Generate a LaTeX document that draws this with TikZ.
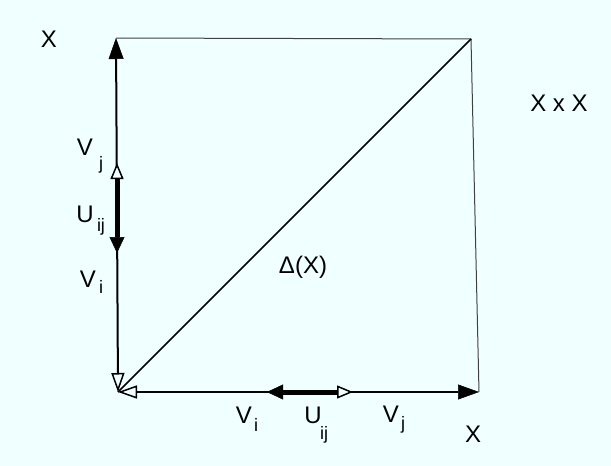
\documentclass[tikz,border=0pt]{standalone}
\usepackage{fontspec}
\setmainfont{Liberation Sans}
\usetikzlibrary{arrows.meta}
\definecolor{bg}{HTML}{F0FFFF}
\tikzset{
  bigtip/.tip={Triangle[length=21pt,width=15pt,line width=0.5pt]},
  bigopen/.tip={Triangle[length=19pt,width=13pt,fill=bg,line width=1.5pt]},
  smalltip/.tip={Triangle[length=16pt,width=15pt,line width=0.5pt]},
  smallopen/.tip={Triangle[length=16pt,width=13pt,fill=bg,line width=1.5pt]},
}
\begin{document}
\begin{tikzpicture}[x=1pt,y=-1pt,
  lbl/.style={font=\fontsize{24}{24}\selectfont, inner sep=0pt, anchor=base},
  sub/.style={font=\fontsize{18}{18}\selectfont, inner sep=0pt, anchor=base},
  axis/.style={line width=2pt},
  useg/.style={line width=5pt},
  edge/.style={draw=black!75, line width=1pt},
  diag/.style={line width=1.5pt}]
\fill[bg] (0,0) rectangle (611,466);
\useasboundingbox (0,0) rectangle (611,466);
\coordinate (O) at (118,392);
\coordinate (T) at (116,38);
\coordinate (TR) at (471,39);
\coordinate (R) at (479,392);
\coordinate (U1) at (117,163);
\coordinate (U2) at (117,253);
\coordinate (H1) at (267,392);
\coordinate (H2) at (353,392);
\draw[edge] (T) -- (TR) -- (R);
\draw[diag] (O) -- (TR);
\draw[axis, bigopen-bigtip] (O) -- (T);
\draw[axis, bigopen-bigtip] (O) -- (R);
\draw[useg, smallopen-smalltip] (U1) -- (U2);
\draw[useg, smalltip-smallopen] (H1) -- (H2);
% labels
\node[lbl] (xtop) at (49,47) {X};
\node[lbl] (xx) at (559,111) {X x X};
\node[lbl] (delta) at (303,273) {Δ(X)};
\node[lbl] (vjv) at (85,155) {V};
\node[sub] (vjvs) at (101,169) {j};
\node[lbl] (uv) at (85,222) {U};
\node[sub] (uvs) at (101,231) {ij};
\node[lbl] (viv) at (88,287) {V};
\node[sub] (vivs) at (101,293) {i};
\node[lbl] (vih) at (244,423) {V};
\node[sub] (vihs) at (256,431) {i};
\node[lbl] (uh) at (313,423) {U};
\node[sub] (uhs) at (324,439) {ij};
\node[lbl] (vjh) at (391,422) {V};
\node[sub] (vjhs) at (403,429) {j};
\node[lbl] (xbot) at (473,442) {X};
\end{tikzpicture}
\end{document}
